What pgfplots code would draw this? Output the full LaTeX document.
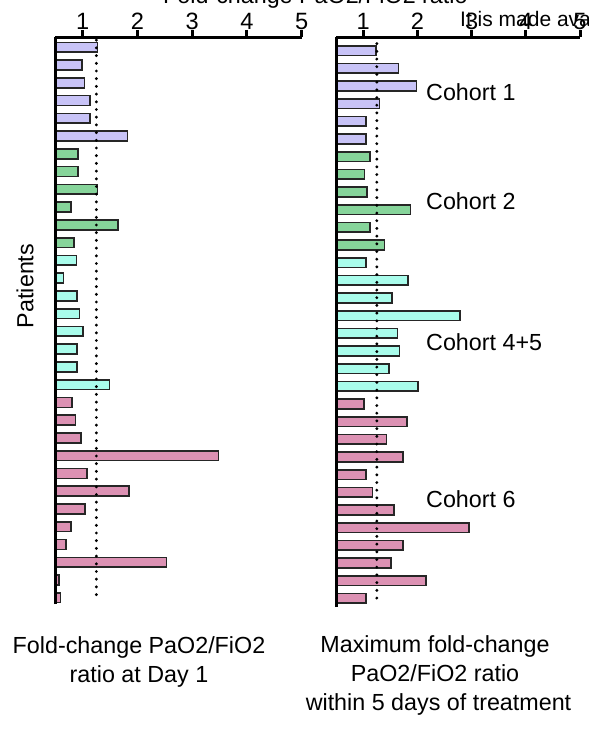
\documentclass[border=0pt]{standalone}
\usepackage{pgfplots}
\pgfplotsset{compat=1.18}
\usepackage{fontspec}
\setmainfont{Liberation Sans}
\definecolor{cpur}{HTML}{C8C3F7}
\definecolor{cgrn}{HTML}{86D49A}
\definecolor{ccya}{HTML}{A9FCEB}
\definecolor{cpnk}{HTML}{DC91B3}
\definecolor{cedge}{HTML}{262626}
\begin{document}
\fontsize{23.3bp}{28bp}\selectfont
\begin{tikzpicture}[x=1bp,y=1bp]
\useasboundingbox (0,0) rectangle (589,-729);
\pgfplotsset{
 panel/.style={
  scale only axis,
  anchor=north west,
  axis on top,
  xmin=0.5, xmax=5,
  axis x line*=top, axis y line*=left,
  axis line style={-, line width=3bp, black},
  every outer x axis line/.append style={line width=3bp},
  every outer y axis line/.append style={line width=3bp},
  xtick={1,2,3,4,5},
  ytick=\empty,
  tick align=outside,
  major tick length=7.5bp,
  every tick/.append style={line width=3bp, black},
  major tick style={line width=3bp, black},
  xticklabel style={inner sep=0bp, yshift=0.5bp, font=\fontsize{23.6bp}{28bp}\selectfont},
  /pgf/number format/assume math mode=true,
 },
 bars/.style={xbar, bar width=9.8bp, bar shift=0pt, draw=cedge, line width=1.6bp, fill=#1},
 refline/.style={black, line width=3.2bp, line cap=round, dash pattern=on 0bp off 7.7bp},
}
% ---------- left panel: fold-change at day 1 ----------
\begin{axis}[panel, at={(55.3bp,-37.5bp)}, width=246.4bp, height=566.5bp,
  ymin=-32.355, ymax=-0.448]
\addplot[bars=cpur] coordinates {(1.27,-1) (0.99,-2) (1.03,-3) (1.13,-4) (1.13,-5) (1.815,-6)};
\addplot[bars=cgrn] coordinates {(0.915,-7) (0.915,-8) (1.27,-9) (0.787,-10) (1.64,-11) (0.84,-12)};
\addplot[bars=ccya] coordinates {(0.89,-13) (0.65,-14) (0.90,-15) (0.94,-16) (1.01,-17) (0.90,-18) (0.90,-19) (1.49,-20)};
\addplot[bars=cpnk] coordinates {(0.80,-21) (0.87,-22) (0.97,-23) (3.48,-24) (1.08,-25) (1.85,-26) (1.04,-27) (0.79,-28) (0.695,-29) (2.53,-30) (0.57,-31) (0.595,-32)};
\addplot[refline] coordinates {(1.25,-0.6) (1.25,-32.2)};
\end{axis}
% ---------- right panel: maximum fold-change ----------
\begin{axis}[panel, at={(336.2bp,-37.5bp)}, width=243.8bp, height=569.5bp,
  ymin=-32.49, ymax=-0.253]
\addplot[bars=cpur] coordinates {(1.235,-1) (1.65,-2) (1.985,-3) (1.30,-4) (1.05,-5) (1.05,-6)};
\addplot[bars=cgrn] coordinates {(1.12,-7) (1.02,-8) (1.07,-9) (1.87,-10) (1.12,-11) (1.39,-12)};
\addplot[bars=ccya] coordinates {(1.05,-13) (1.83,-14) (1.535,-15) (2.79,-16) (1.63,-17) (1.67,-18) (1.475,-19) (2.015,-20)};
\addplot[bars=cpnk] coordinates {(1.01,-21) (1.81,-22) (1.425,-23) (1.73,-24) (1.05,-25) (1.17,-26) (1.57,-27) (2.95,-28) (1.73,-29) (1.51,-30) (2.16,-31) (1.05,-32)};
\addplot[refline] coordinates {(1.25,-0.6) (1.25,-32.3)};
\end{axis}
% ---------- texts ----------
\node[anchor=base west, inner sep=0] at (163,-4) {Fold-change PaO2/FiO2 ratio};
\node[anchor=base west, inner sep=0, font=\fontsize{21bp}{25bp}\selectfont] at (460,-26.7) {It is made available under a};
\node[rotate=90, anchor=base, inner sep=0] at (33.3,-286) {Patients};
\node[anchor=base west, inner sep=0] at (426,-101) {Cohort 1};
\node[anchor=base west, inner sep=0] at (426,-209.5) {Cohort 2};
\node[anchor=base west, inner sep=0] at (426,-350) {Cohort 4+5};
\node[anchor=base west, inner sep=0] at (426,-507.3) {Cohort 6};
\node[anchor=base, inner sep=0] at (139,-653.3) {Fold-change PaO2/FiO2};
\node[anchor=base, inner sep=0] at (139,-682.7) {ratio at Day 1};
\node[anchor=base, inner sep=0] at (435,-652.7) {Maximum fold-change};
\node[anchor=base, inner sep=0] at (435,-681.7) {PaO2/FiO2 ratio};
\node[anchor=base, inner sep=0] at (438.5,-710.7) {within 5 days of treatment};
\end{tikzpicture}
\end{document}
